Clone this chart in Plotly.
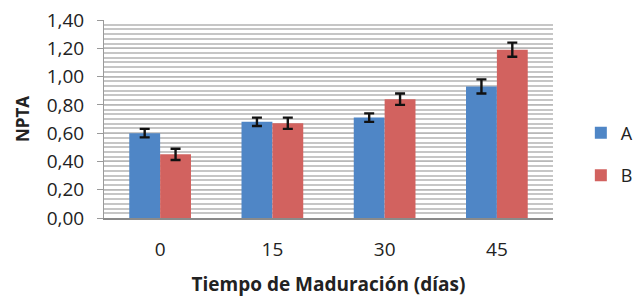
import plotly.graph_objects as go

categories = ["0", "15", "30", "45"]
series_a = [0.60, 0.68, 0.71, 0.93]
series_b = [0.45, 0.67, 0.84, 1.19]
err_a = [0.03, 0.03, 0.03, 0.05]
err_b = [0.04, 0.04, 0.04, 0.05]
y_ticks = [0.0, 0.2, 0.4, 0.6, 0.8, 1.0, 1.2, 1.4]

FONT = "Open Sans"

fig = go.Figure()
fig.add_trace(go.Bar(
    x=categories, y=series_a, name="A", legendgroup="a",
    marker=dict(color="#4F86C6", line=dict(width=0)),
    error_y=dict(type="data", array=err_a, color="#111111", thickness=2.4, width=5),
))
fig.add_trace(go.Bar(
    x=categories, y=series_b, name="B", legendgroup="b",
    marker=dict(color="#D2625F", line=dict(width=0)),
    error_y=dict(type="data", array=err_b, color="#111111", thickness=2.4, width=5),
))

fig.update_layout(
    width=635, height=297,
    margin=dict(l=104, r=82, t=20, b=79, autoexpand=False),
    paper_bgcolor="white", plot_bgcolor="white",
    separators=",.",
    barmode="group", bargap=0.45, bargroupgap=0,
    font=dict(family=FONT, size=19, color="#222222"),
    legend=dict(x=1.062, xanchor="left", y=0.323, yanchor="middle",
                tracegroupgap=16, font=dict(size=18, color="#222222"),
                itemwidth=30),
    showlegend=True,
)
fig.update_xaxes(
    showline=True, linecolor="#8a8a8a", linewidth=1.5,
    ticks="", tickfont=dict(size=19, color="#222222"),
    ticklabelstandoff=13,
    title=dict(text="<b>Tiempo de Maduración (días)</b>", font=dict(size=19, color="#222222"), standoff=17),
    showgrid=False,
)
fig.update_yaxes(
    range=[0, 1.4], tickvals=y_ticks, tickformat=".2f",
    showline=True, linecolor="#9a9a9a", linewidth=1,
    ticks="outside", ticklen=6, tickcolor="#9a9a9a",
    tickfont=dict(size=19, color="#222222"),
    ticklabelstandoff=9,
    showgrid=True, gridcolor="#b8b8b8", gridwidth=1,
    minor=dict(dtick=0.2 / 6, showgrid=True, gridcolor="#c6c6c6", gridwidth=1.6),
    title=dict(text="<b>NPTA</b>", font=dict(size=17, color="#222222"), standoff=12),
    zeroline=False,
)

fig.write_html("out.html", config={"displayModeBar": False},
               post_script="document.body.style.margin='0';")
